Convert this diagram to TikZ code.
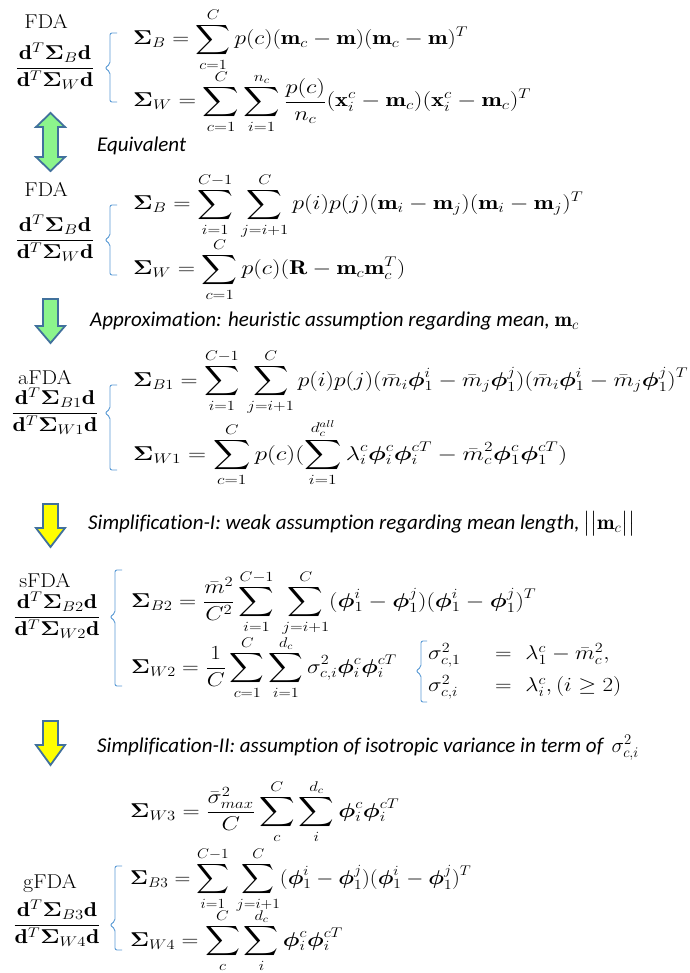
\RequirePackage{fix-cm}
\documentclass[tikz,border=0pt]{standalone}
\usepackage{amsmath,bm,graphicx}
\usepackage{fontspec}
\newfontfamily\capfont[Ligatures=NoCommon]{Carlito}
\definecolor{brkblue}{HTML}{5B9BD5}
\definecolor{arrline}{HTML}{41719C}
\definecolor{arrgreen}{HTML}{8CF58C}
\definecolor{arryellow}{HTML}{FFFF00}
\newcommand{\hsx}[2][1.2]{\scalebox{#1}[1]{#2}}
\newcommand{\blbrace}[5]{%
  \draw[brk] (#1+#5,#2) -- (#1,#2) -- (#1,#3-4) -- (#1-5,#3) -- (#1,#3+4) -- (#1,#4) -- (#1+#5,#4);}
\newcommand{\downarr}[5]{%
  \draw[blockarr,fill=#5] (43,#2) -- (58,#2) -- (58,#3) -- (65,#3) -- (#1,#4) -- (36,#3) -- (43,#3) -- cycle;}
\begin{document}
\begin{tikzpicture}[x=1pt,y=-1pt,
  lbl/.style={font=\fontsize{20}{24}\selectfont, inner sep=0pt, anchor=base},
  frc/.style={font=\fontsize{20}{24}\selectfont, inner sep=0pt, anchor=base},
  eq/.style={font=\fontsize{20}{24}\selectfont, inner sep=0pt, anchor=base west},
  capt/.style={font=\capfont\itshape\fontsize{21}{25}\selectfont, inner sep=0pt, anchor=base west},
  brk/.style={draw=brkblue, line width=0.9pt, rounded corners=2pt},
  blockarr/.style={draw=arrline, line width=1.8pt, line join=miter}]
\useasboundingbox[fill=white] (0,0) rectangle (689,973);

% ---------- Block 1 ----------
\node[lbl] (fda1) at (46,29) {\hsx[1.1]{FDA}};
\node[frc] (fr1) at (55,73) {\hsx[1.19]{$\displaystyle\frac{\mathbf{d}^T\boldsymbol{\Sigma}_B\mathbf{d}}{\mathbf{d}^T\boldsymbol{\Sigma}_W\mathbf{d}}$}};
\node[eq] (e1) at (133,45) {\hsx[1.17]{$\displaystyle\boldsymbol{\Sigma}_B=\sum_{c=1}^{C}p(c)(\mathbf{m}_c-\mathbf{m})(\mathbf{m}_c-\mathbf{m})^T$}};
\node[eq] (e2) at (133,107) {\hsx[1.22]{$\displaystyle\boldsymbol{\Sigma}_W=\sum_{c=1}^{C}\sum_{i=1}^{n_c}\frac{p(c)}{n_c}(\mathbf{x}_i^c-\mathbf{m}_c)(\mathbf{x}_i^c-\mathbf{m}_c)^T$}};
\blbrace{110}{33}{68}{102}{7}

% double arrow
\draw[blockarr,fill=arrgreen] (50.5,113) -- (65,127) -- (58,127) -- (58,157) -- (65,157) -- (50.5,171) -- (36,157) -- (43,157) -- (43,127) -- (36,127) -- cycle;
\node[capt] (c1) at (97,152) {Equivalent};

% ---------- Block 2 ----------
\node[lbl] (fda2) at (46,197) {\hsx[1.1]{FDA}};
\node[frc] (fr2) at (55,245) {\hsx[1.19]{$\displaystyle\frac{\mathbf{d}^T\boldsymbol{\Sigma}_B\mathbf{d}}{\mathbf{d}^T\boldsymbol{\Sigma}_W\mathbf{d}}$}};
\node[eq] (e3) at (133,210) {\hsx{$\displaystyle\boldsymbol{\Sigma}_B=\sum_{i=1}^{C-1}\,\sum_{j=i+1}^{C}p(i)p(j)(\mathbf{m}_i-\mathbf{m}_j)(\mathbf{m}_i-\mathbf{m}_j)^T$}};
\node[eq] (e4) at (133,275) {\hsx{$\displaystyle\boldsymbol{\Sigma}_W=\sum_{c=1}^{C}p(c)(\mathbf{R}-\mathbf{m}_c\mathbf{m}_c^T)$}};
\blbrace{110}{205}{240}{275}{7}

\downarr{50.5}{299}{326}{343}{arrgreen}
\node[capt] (c2) at (90,326) {Approximation: heuristic assumption regarding mean, $\mathbf{m}_c$};

% ---------- Block 3 ----------
\node[lbl] (fda3) at (45,384) {\hsx[1.1]{aFDA}};
\node[frc] (fr3) at (55,418) {\hsx[1.19]{$\displaystyle\frac{\mathbf{d}^T\boldsymbol{\Sigma}_{B1}\mathbf{d}}{\mathbf{d}^T\boldsymbol{\Sigma}_{W1}\mathbf{d}}$}};
\node[eq] (e5) at (133,386) {\hsx[1.18]{$\displaystyle\boldsymbol{\Sigma}_{B1}=\sum_{i=1}^{C-1}\,\sum_{j=i+1}^{C}p(i)p(j)(\bar m_i\boldsymbol{\phi}_1^i-\bar m_j\boldsymbol{\phi}_1^j)(\bar m_i\boldsymbol{\phi}_1^i-\bar m_j\boldsymbol{\phi}_1^j)^T$}};
\node[eq] (e6) at (133,460) {\hsx[1.25]{$\displaystyle\boldsymbol{\Sigma}_{W1}=\sum_{c=1}^{C}p(c)(\sum_{i=1}^{d_c^{all}}\lambda_i^c\boldsymbol{\phi}_i^c\boldsymbol{\phi}_i^{cT}-\bar m_c^2\boldsymbol{\phi}_1^c\boldsymbol{\phi}_1^{cT})$}};
\blbrace{110}{385}{413}{470}{7}

\downarr{50.5}{504}{528}{547}{arryellow}
\node[capt] (c3) at (88,529) {Simplification-I: weak assumption regarding mean length,$\,\big|\big|\mathbf{m}_c\big|\big|$};

% ---------- Block 4 ----------
\node[lbl] (fda4) at (45,587) {\hsx[1.1]{sFDA}};
\node[frc] (fr4) at (57,622) {\hsx[1.19]{$\displaystyle\frac{\mathbf{d}^T\boldsymbol{\Sigma}_{B2}\mathbf{d}}{\mathbf{d}^T\boldsymbol{\Sigma}_{W2}\mathbf{d}}$}};
\node[eq] (e7) at (131,607) {\hsx[1.19]{$\displaystyle\boldsymbol{\Sigma}_{B2}=\frac{\bar m^2}{C^2}\sum_{i=1}^{C-1}\,\sum_{j=i+1}^{C}(\boldsymbol{\phi}_1^i-\boldsymbol{\phi}_1^j)(\boldsymbol{\phi}_1^i-\boldsymbol{\phi}_1^j)^T$}};
\node[eq] (e8) at (131,673) {\hsx[1.16]{$\displaystyle\boldsymbol{\Sigma}_{W2}=\frac{1}{C}\sum_{c=1}^{C}\sum_{i=1}^{d_c}\sigma_{c,i}^2\boldsymbol{\phi}_i^c\boldsymbol{\phi}_i^{cT}$}};
\node[eq,anchor=west] (cs) at (428,671) {\hsx[1.15]{$\begin{array}{@{}l@{\hspace{30pt}}c@{\hspace{12pt}}l@{}}\sigma_{c,1}^2&=&\lambda_1^c-\bar m_c^2,\\[8pt]\sigma_{c,i}^2&=&\lambda_i^c,(i\geq 2)\end{array}$}};
\blbrace{115}{570}{617}{686}{7}
\blbrace{421}{641}{671}{702}{6}

\downarr{50.5}{721}{745}{765}{arryellow}
\node[capt] (c4) at (97,752) {Simplification-II: assumption of isotropic variance in term of\, $\sigma_{c,i}^2$};

% ---------- Block 5 ----------
\node[eq] (e9) at (130,817) {\hsx[1.19]{$\displaystyle\boldsymbol{\Sigma}_{W3}=\frac{\bar\sigma_{max}^2}{C}\sum_{c}^{C}\sum_{i}^{d_c}\boldsymbol{\phi}_i^c\boldsymbol{\phi}_i^{cT}$}};
\node[lbl] (fda5) at (50,888) {\hsx[1.1]{gFDA}};
\node[frc] (fr5) at (57,930) {\hsx[1.19]{$\displaystyle\frac{\mathbf{d}^T\boldsymbol{\Sigma}_{B3}\mathbf{d}}{\mathbf{d}^T\boldsymbol{\Sigma}_{W4}\mathbf{d}}$}};
\node[eq] (e10) at (130,884) {\hsx[1.1]{$\displaystyle\boldsymbol{\Sigma}_{B3}=\sum_{i=1}^{C-1}\,\sum_{j=i+1}^{C}(\boldsymbol{\phi}_1^i-\boldsymbol{\phi}_1^j)(\boldsymbol{\phi}_1^i-\boldsymbol{\phi}_1^j)^T$}};
\node[eq] (e11) at (130,946) {\hsx[1.17]{$\displaystyle\boldsymbol{\Sigma}_{W4}=\sum_{c}^{C}\sum_{i}^{d_c}\boldsymbol{\phi}_i^c\boldsymbol{\phi}_i^{cT}$}};
\blbrace{115}{866}{925}{950}{7}
\end{tikzpicture}
\end{document}
